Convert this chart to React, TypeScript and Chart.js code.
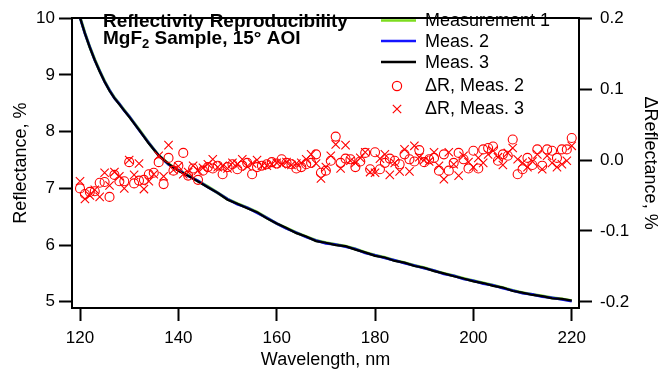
import React, { useEffect, useRef } from "react";
import { Chart, registerables } from "chart.js";

Chart.register(...registerables);

const FONT = "'Liberation Sans', Arial, Helvetica, sans-serif";

const titleLine1 = "Reflectivity Reproducibility";
const titleLine2a = "MgF";
const titleLine2sub = "2";
const titleLine2b = " Sample, 15° AOI";

const xTitle = "Wavelength, nm";
const yTitle = "Reflectance, %";
const y2Title = "ΔReflectance, %";

const xTicks = [120, 140, 160, 180, 200, 220];
const leftTicks = [5, 6, 7, 8, 9, 10];
const rightTicks = [-0.2, -0.1, 0, 0.1, 0.2];

const curveWavelengths = [
  120, 121, 122, 123, 124, 125, 126, 127, 128, 129, 130,
  132, 134, 136, 138, 140, 142, 144, 146, 148, 150,
  152, 154, 156, 158, 160, 162, 164, 166, 168, 170,
  172, 174, 176, 178, 180, 182, 184, 186, 188, 190,
  192, 194, 196, 198, 200, 202, 204, 206, 208, 210,
  212, 214, 216, 218, 220,
];

const measurement1 = [
  10.02, 9.74, 9.49, 9.27, 9.07, 8.89, 8.73, 8.6, 8.49, 8.38, 8.27,
  8.04, 7.8, 7.58, 7.43, 7.32, 7.23, 7.13, 7.03, 6.92, 6.81,
  6.73, 6.66, 6.58, 6.48, 6.38, 6.3, 6.22, 6.15, 6.08, 6.04,
  6.01, 5.98, 5.93, 5.87, 5.82, 5.78, 5.73, 5.69, 5.64, 5.6,
  5.55, 5.5, 5.46, 5.41, 5.37, 5.33, 5.29, 5.25, 5.2, 5.16,
  5.13, 5.1, 5.07, 5.05, 5.02,
];

const measurement2 = [
  10.01, 9.73, 9.49, 9.26, 9.07, 8.88, 8.73, 8.59, 8.49, 8.37, 8.27,
  8.03, 7.8, 7.58, 7.42, 7.32, 7.22, 7.13, 7.02, 6.92, 6.81,
  6.72, 6.66, 6.57, 6.48, 6.38, 6.29, 6.22, 6.14, 6.08, 6.03,
  6.01, 5.97, 5.93, 5.86, 5.82, 5.77, 5.73, 5.68, 5.64, 5.59,
  5.55, 5.49, 5.46, 5.4, 5.37, 5.32, 5.29, 5.24, 5.2, 5.15,
  5.13, 5.09, 5.07, 5.04, 5.01,
];

const measurement3 = [
  10.01, 9.73, 9.48, 9.26, 9.06, 8.88, 8.72, 8.59, 8.48, 8.37, 8.26,
  8.03, 7.79, 7.58, 7.43, 7.31, 7.22, 7.12, 7.02, 6.92, 6.8,
  6.73, 6.65, 6.58, 6.47, 6.38, 6.3, 6.21, 6.15, 6.07, 6.04,
  6.0, 5.98, 5.92, 5.87, 5.81, 5.78, 5.72, 5.69, 5.63, 5.6,
  5.54, 5.5, 5.45, 5.41, 5.36, 5.33, 5.28, 5.25, 5.19, 5.16,
  5.12, 5.1, 5.06, 5.05, 5.02,
];

const deltaWavelengths = [
  120, 121, 122, 123, 124, 125, 126, 127, 128, 129,
  130, 131, 132, 133, 134, 135, 136, 137, 138, 139,
  140, 141, 142, 143, 144, 145, 146, 147, 148, 149,
  150, 151, 152, 153, 154, 155, 156, 157, 158, 159,
  160, 161, 162, 163, 164, 165, 166, 167, 168, 169,
  170, 171, 172, 173, 174, 175, 176, 177, 178, 179,
  180, 181, 182, 183, 184, 185, 186, 187, 188, 189,
  190, 191, 192, 193, 194, 195, 196, 197, 198, 199,
  200, 201, 202, 203, 204, 205, 206, 207, 208, 209,
  210, 211, 212, 213, 214, 215, 216, 217, 218, 219,
  220,
];

const deltaMeas2 = [
  -0.04, -0.048, -0.045, -0.044, -0.032, -0.031, -0.052, -0.021, -0.03, -0.03,
  -0.003, -0.033, -0.029, -0.028, -0.02, -0.018, -0.003, -0.034, 0.003, -0.015,
  -0.008, 0.01, -0.022, -0.012, -0.028, -0.015, -0.01, -0.012, -0.008, -0.02,
  -0.01, -0.006, -0.013, -0.008, -0.004, -0.02, -0.01, -0.008, -0.006, -0.003,
  -0.005, 0.001, -0.004, -0.006, -0.012, -0.01, -0.006, -0.004, 0.008, -0.018,
  -0.015, -0.001, 0.033, -0.004, 0.002, 0.001, -0.01, -0.002, 0.01, -0.013,
  0.011, -0.013, -0.004, 0.002, -0.001, -0.006, 0.008, 0.001, -0.002, 0.014,
  -0.003, 0.001, 0.003, -0.015, 0.008, -0.015, -0.004, 0.01, 0.001, -0.012,
  0.013, -0.012, 0.015, 0.017, 0.019, -0.001, 0.008, 0.006, 0.029, -0.02,
  -0.013, 0.003, -0.007, 0.015, -0.008, 0.015, 0.013, 0.003, 0.015, 0.015,
  0.031,
];

const deltaMeas3 = [
  -0.03, -0.055, -0.05, -0.042, -0.052, -0.018, -0.036, -0.017, -0.023, -0.04,
  0.0, -0.021, -0.005, -0.041, -0.03, -0.02, 0.006, -0.023, 0.021, -0.014,
  -0.009, -0.02, -0.017, -0.008, -0.015, -0.011, -0.006, 0.001, -0.01, -0.008,
  -0.012, -0.004, -0.006, 0.001, -0.009, -0.005, 0.0, -0.008, -0.008, -0.006,
  -0.004, -0.006, -0.003, -0.007, -0.005, -0.004, 0.001, 0.008, -0.005, -0.026,
  -0.01, 0.006, 0.022, -0.012, 0.021, -0.001, -0.004, 0.003, 0.011, -0.017,
  -0.018, 0.002, 0.008, -0.021, -0.004, -0.016, 0.015, -0.016, 0.02, 0.004,
  0.0, -0.002, 0.011, -0.008, -0.027, 0.011, -0.006, -0.022, 0.006, -0.003,
  -0.01, 0.003, -0.004, 0.008, 0.013, 0.004, -0.007, 0.01, 0.017, 0.001,
  -0.004, -0.01, -0.002, 0.008, -0.013, 0.006, -0.004, -0.01, -0.006, -0.001,
  0.02,
];

const GREEN = "#7ddc1f";
const BLUE = "#1414ff";
const BLACK = "#000000";
const RED = "#ff0000";

const toPoints = (xs: number[], ys: number[]) => xs.map((x, i) => ({ x, y: ys[i] }));

const legendItems = [
  { label: "Measurement 1", kind: "line", color: GREEN },
  { label: "Meas. 2", kind: "line", color: BLUE },
  { label: "Meas. 3", kind: "line", color: BLACK },
  { label: "ΔR, Meas. 2", kind: "circle", color: RED },
  { label: "ΔR, Meas. 3", kind: "cross", color: RED },
];
const legendRowsY = [20.5, 41, 62, 85, 108];

const framePlugin = {
  id: "frameTop",
  afterDatasetsDraw(chart: any) {
    const { ctx, chartArea } = chart;
    ctx.save();
    ctx.strokeStyle = "#000";
    ctx.lineWidth = 2;
    ctx.beginPath();
    ctx.moveTo(chartArea.left - 1, Math.round(chartArea.top));
    ctx.lineTo(chartArea.right + 1, Math.round(chartArea.top));
    ctx.stroke();
    ctx.restore();
  },
};

const annotationsPlugin = {
  id: "titleAndLegend",
  afterDraw(chart: any) {
    const ctx = chart.ctx as CanvasRenderingContext2D;
    ctx.save();
    ctx.fillStyle = "#000";
    ctx.textAlign = "left";
    ctx.textBaseline = "alphabetic";
    // title
    ctx.font = `bold 19px ${FONT}`;
    ctx.fillText(titleLine1, 103, 27);
    let x = 103;
    ctx.fillText(titleLine2a, x, 44);
    x += ctx.measureText(titleLine2a).width;
    ctx.font = `bold 13px ${FONT}`;
    ctx.fillText(titleLine2sub, x, 48);
    x += ctx.measureText(titleLine2sub).width;
    ctx.font = `bold 19px ${FONT}`;
    ctx.fillText(titleLine2b, x, 44);

    // legend
    ctx.font = `18px ${FONT}`;
    ctx.textBaseline = "middle";
    legendItems.forEach((item, i) => {
      const y = legendRowsY[i];
      ctx.strokeStyle = item.color;
      if (item.kind === "line") {
        ctx.lineWidth = 2.5;
        ctx.beginPath();
        ctx.moveTo(381, y);
        ctx.lineTo(416, y);
        ctx.stroke();
      } else if (item.kind === "circle") {
        ctx.lineWidth = 1.2;
        ctx.beginPath();
        ctx.arc(397, y + 1, 4.6, 0, Math.PI * 2);
        ctx.stroke();
      } else {
        ctx.lineWidth = 1.2;
        const r = 4.2;
        ctx.beginPath();
        ctx.moveTo(397 - r, y + 1 - r);
        ctx.lineTo(397 + r, y + 1 + r);
        ctx.moveTo(397 - r, y + 1 + r);
        ctx.lineTo(397 + r, y + 1 - r);
        ctx.stroke();
      }
      ctx.fillStyle = "#000";
      ctx.fillText(item.label, 425, y + 1);
    });
    ctx.restore();
  },
};

const axisCommon = {
  grid: {
    drawOnChartArea: false,
    drawTicks: true,
    tickLength: 13,
    tickColor: "#000",
    tickWidth: 2,
  },
  border: { display: true, color: "#000", width: 2 },
};

export default function App() {
  const canvasRef = useRef<HTMLCanvasElement | null>(null);

  useEffect(() => {
    if (!canvasRef.current) return;
    Chart.defaults.font.family = FONT;
    const chart = new Chart(canvasRef.current, {
      type: "line",
      data: {
        datasets: [
          {
            label: "ΔR, Meas. 2",
            data: toPoints(deltaWavelengths, deltaMeas2),
            yAxisID: "y2",
            showLine: false,
            pointStyle: "circle",
            pointRadius: 4.5,
            pointBorderWidth: 1.1,
            borderColor: RED,
            backgroundColor: "rgba(0,0,0,0)",
            pointBackgroundColor: "rgba(0,0,0,0)",
            order: 0,
          },
          {
            label: "ΔR, Meas. 3",
            data: toPoints(deltaWavelengths, deltaMeas3),
            yAxisID: "y2",
            showLine: false,
            pointStyle: "crossRot",
            pointRadius: 5.9,
            pointBorderWidth: 1.1,
            borderColor: RED,
            backgroundColor: "rgba(0,0,0,0)",
            order: 0,
          },
          {
            label: "Meas. 3",
            data: toPoints(curveWavelengths, measurement3),
            yAxisID: "y",
            borderColor: BLACK,
            borderWidth: 2.2,
            pointRadius: 0,
            tension: 0,
            order: 1,
          },
          {
            label: "Meas. 2",
            data: toPoints(curveWavelengths, measurement2),
            yAxisID: "y",
            borderColor: BLUE,
            borderWidth: 2.6,
            pointRadius: 0,
            tension: 0,
            order: 2,
          },
          {
            label: "Measurement 1",
            data: toPoints(curveWavelengths, measurement1),
            yAxisID: "y",
            borderColor: GREEN,
            borderWidth: 3,
            pointRadius: 0,
            tension: 0,
            order: 3,
          },
        ],
      },
      options: {
        responsive: true,
        maintainAspectRatio: false,
        animation: false,
        events: [],
        layout: { padding: { top: 13, left: 0, right: 0, bottom: 0 } },
        plugins: {
          legend: { display: false },
          tooltip: { enabled: false },
          title: { display: false },
        },
        scales: {
          x: {
            type: "linear",
            position: "bottom",
            min: 118.37,
            max: 221.48,
            afterBuildTicks: (s: any) => {
              s.ticks = xTicks.map((v) => ({ value: v }));
            },
            afterFit: (s: any) => {
              s.height = 73;
            },
            ticks: {
              color: "#000",
              font: { family: FONT, size: 17 },
              padding: 7,
              maxRotation: 0,
              autoSkip: false,
            },
            title: {
              display: true,
              text: xTitle,
              color: "#000",
              font: { family: FONT, size: 18 },
              padding: { top: 0, bottom: 10 },
            },
            ...axisCommon,
          },
          y: {
            type: "linear",
            position: "left",
            min: 4.89,
            max: 10,
            afterBuildTicks: (s: any) => {
              s.ticks = leftTicks.map((v) => ({ value: v }));
            },
            afterFit: (s: any) => {
              s.width = 72;
            },
            ticks: {
              color: "#000",
              font: { family: FONT, size: 17 },
              padding: 4,
              autoSkip: false,
            },
            title: {
              display: true,
              text: yTitle,
              color: "#000",
              font: { family: FONT, size: 18 },
              padding: { top: 10, bottom: 0 },
            },
            ...axisCommon,
          },
          y2: {
            type: "linear",
            position: "right",
            min: -0.2087,
            max: 0.2,
            afterBuildTicks: (s: any) => {
              s.ticks = rightTicks.map((v) => ({ value: v }));
            },
            afterFit: (s: any) => {
              s.width = 82;
            },
            ticks: {
              color: "#000",
              font: { family: FONT, size: 17 },
              padding: 8,
              autoSkip: false,
              callback: (v: any) => {
                const n = Number(v);
                return Math.abs(n) < 1e-9 ? "0.0" : n.toFixed(1);
              },
            },
            title: {
              display: true,
              text: y2Title,
              color: "#000",
              font: { family: FONT, size: 18 },
              padding: { top: 0, bottom: 0 },
            },
            ...axisCommon,
          },
        },
      } as any,
      plugins: [framePlugin, annotationsPlugin],
    });
    return () => chart.destroy();
  }, []);

  return (
    <div
      style={{
        position: "fixed",
        left: 0,
        top: 0,
        width: 661,
        height: 381,
        background: "#fff",
      }}
    >
      <canvas ref={canvasRef} />
    </div>
  );
}
